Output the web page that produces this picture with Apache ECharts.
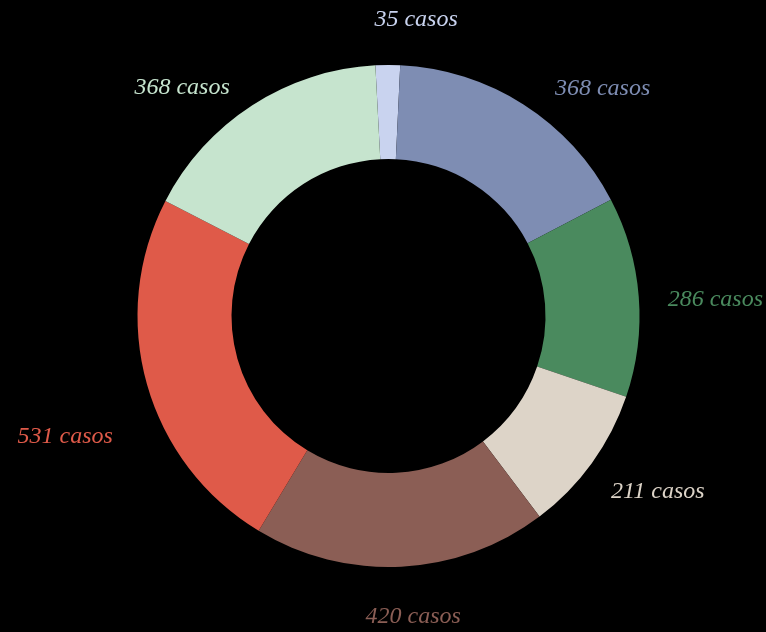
<!DOCTYPE html>
<html><head><meta charset="utf-8">
<script src="https://cdn.jsdelivr.net/npm/echarts@6/dist/echarts.min.js"></script>
<style>html,body{margin:0;padding:0;background:#000;}#c{width:766px;height:632px;}</style>
</head><body><div id="c"></div>
<script>
const values = [35, 368, 286, 211, 420, 531, 368];
const labels = ['35 casos', '368 casos', '286 casos', '211 casos', '420 casos', '531 casos', '368 casos'];
const colors = ['#c9d3ef', '#7e8db3', '#4a8a5e', '#ddd4c8', '#8b5e55', '#df5a49', '#c6e4ce'];

// label placement tweaks (Excel-style label positions), style only
const LABEL_SHIFT = [[85, -20], [3, 5], [-11, 5], [-16, 14], [-52, 25], [5, 46], [6, 4]];

const chart = echarts.init(document.getElementById('c'));
chart.setOption({
  backgroundColor: '#000',
  animation: false,
  series: [{
    type: 'pie',
    center: [388.5, 316],
    radius: [157, 251],
    startAngle: 93,
    clockwise: true,
    avoidLabelOverlap: false,
    data: values.map((v, i) => ({
      value: v,
      name: labels[i],
      itemStyle: { color: colors[i] },
      label: { color: colors[i] }
    })),
    label: {
      show: true,
      position: 'outside',
      formatter: '{b}',
      fontFamily: 'Liberation Serif',
      fontStyle: 'italic',
      fontSize: 24
    },
    labelLine: { show: false, length: 25, length2: 10 },
    labelLayout: function (p) {
      const s = LABEL_SHIFT[p.dataIndex];
      return { dx: s[0], dy: s[1] };
    }
  }]
});
</script></body></html>
